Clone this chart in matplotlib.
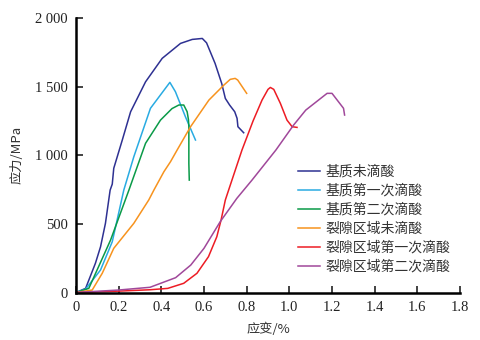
import matplotlib
matplotlib.use("Agg")
import matplotlib.pyplot as plt
from matplotlib.ticker import FuncFormatter

plt.rcParams['font.family'] = ['Liberation Serif', 'Noto Sans CJK SC']

labels = ["基质未滴酸", "基质第一次滴酸", "基质第二次滴酸",
          "裂隙区域未滴酸", "裂隙区域第一次滴酸", "裂隙区域第二次滴酸"]
colors = ["#2e3192", "#29abe2", "#0a9a48", "#f7931e", "#ed1c24", "#a0489a"]

x_m0 = [0, 0.045, 0.091, 0.115, 0.138, 0.160, 0.170, 0.177, 0.217, 0.256, 0.326, 0.404,
        0.490, 0.545, 0.592, 0.612, 0.652, 0.683, 0.700, 0.720, 0.744, 0.755, 0.759, 0.786]
y_m0 = [0, 30, 213, 333, 504, 746, 790, 905, 1111, 1317, 1535, 1706,
        1815, 1844, 1851, 1819, 1669, 1523, 1414, 1366, 1317, 1269, 1208, 1164]

x_m1 = [0, 0.045, 0.115, 0.170, 0.224, 0.271, 0.349, 0.440, 0.466, 0.513, 0.560]
y_m1 = [0, 25, 164, 370, 746, 989, 1342, 1531, 1463, 1280, 1111]

x_m2 = [0, 0.060, 0.162, 0.248, 0.326, 0.396, 0.450, 0.482, 0.505, 0.521, 0.527, 0.529, 0.529, 0.531]
y_m2 = [0, 30, 382, 746, 1087, 1256, 1340, 1366, 1366, 1317, 1260, 1208, 941, 819]

x_f0 = [0, 0.076, 0.123, 0.177, 0.271, 0.341, 0.365, 0.412, 0.443, 0.474, 0.537,
        0.623, 0.693, 0.723, 0.746, 0.758, 0.800]
y_f0 = [0, 18, 140, 322, 504, 674, 746, 880, 953, 1038, 1208,
        1402, 1511, 1553, 1560, 1548, 1451]

x_f1 = [0, 0.20, 0.347, 0.430, 0.505, 0.567, 0.621, 0.660, 0.680, 0.700, 0.731,
        0.778, 0.830, 0.872, 0.900, 0.911, 0.927, 0.958, 0.989, 1.013, 1.036]
y_f1 = [0, 10, 20, 30, 67, 140, 261, 406, 528, 674, 819,
        1038, 1250, 1402, 1480, 1494, 1480, 1378, 1256, 1208, 1203]

x_f2 = [0, 0.20, 0.347, 0.467, 0.538, 0.600, 0.676, 0.754, 0.825, 0.937, 1.020,
        1.077, 1.177, 1.200, 1.254, 1.259]
y_f2 = [0, 18, 38, 108, 200, 322, 516, 686, 819, 1038, 1220,
        1329, 1451, 1451, 1342, 1293]

series = [(x_m0, y_m0), (x_m1, y_m1), (x_m2, y_m2),
          (x_f0, y_f0), (x_f1, y_f1), (x_f2, y_f2)]

xticks = [0, 0.2, 0.4, 0.6, 0.8, 1.0, 1.2, 1.4, 1.6, 1.8]
yticks = [0, 500, 1000, 1500, 2000]

fig = plt.figure(figsize=(4.8, 3.4), dpi=100)
ax = fig.add_axes([76 / 480, 1 - 292.5 / 340, (460 - 76) / 480, (292.5 - 18) / 340])

for (xs, ys), lab, c in zip(series, labels, colors):
    ax.plot(xs, ys, color=c, lw=1.1, label=lab)

ax.set_xlim(0, 1.8)
ax.set_ylim(0, 2000)
ax.set_xticks(xticks)
ax.set_yticks(yticks)
ax.xaxis.set_major_formatter(FuncFormatter(lambda v, p: "0" if v == 0 else f"{v:.1f}"))
ax.yaxis.set_major_formatter(FuncFormatter(lambda v, p: f"{int(v):,}".replace(",", " ")))

for s in ["top", "right"]:
    ax.spines[s].set_visible(False)
for s in ["left", "bottom"]:
    ax.spines[s].set_linewidth(1.8)
ax.tick_params(direction="in", length=5, width=1.2, labelsize=10.5, colors="#222222", pad=6)

ax.set_xlabel("应变/%", family=["Noto Sans CJK SC"], fontsize=9.5, color="#333333", labelpad=6)
ax.set_ylabel("应力/MPa", family=["Noto Sans CJK SC"], fontsize=9.5, color="#333333", labelpad=8)

leg = ax.legend(loc="upper left", bbox_to_anchor=(291 / 480, 1 - 158 / 340), bbox_transform=fig.transFigure,
                frameon=False, prop={"family": ["Noto Sans CJK SC"], "size": 10},
                handlelength=1.6, handletextpad=0.35, labelspacing=0.36, borderpad=0)
for t in leg.get_texts():
    t.set_color("#333333")

fig.savefig("out.png", dpi=100)
